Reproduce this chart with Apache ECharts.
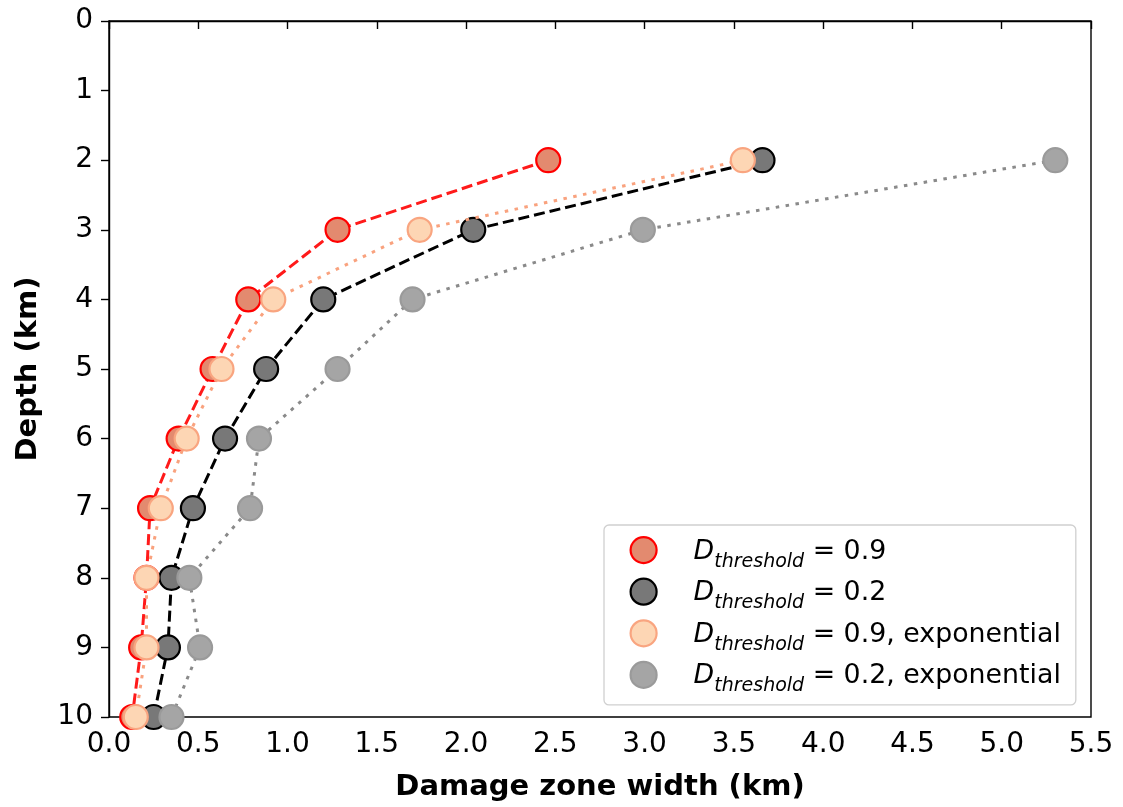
<!DOCTYPE html>
<html>
<head>
<meta charset="utf-8">
<script src="https://cdn.jsdelivr.net/npm/echarts@6/dist/echarts.min.js"></script>
<style>html,body{margin:0;padding:0;background:#fff}#c{width:1123px;height:807px}</style>
</head>
<body>
<div id="c"></div>
<script>
const depths = [2, 3, 4, 5, 6, 7, 8, 9, 10];
const red09 = [2.46, 1.28, 0.78, 0.58, 0.39, 0.23, 0.21, 0.18, 0.13];
const black02 = [3.66, 2.04, 1.20, 0.88, 0.65, 0.47, 0.35, 0.33, 0.25];
const orange09exp = [3.55, 1.74, 0.92, 0.63, 0.435, 0.29, 0.21, 0.21, 0.15];
const gray02exp = [5.30, 2.99, 1.70, 1.28, 0.84, 0.79, 0.45, 0.51, 0.35];
const xTicks = ['0.0','0.5','1.0','1.5','2.0','2.5','3.0','3.5','4.0','4.5','5.0','5.5'];
const seriesNames = ['s1', 's2', 's3', 's4'];
const legendSuffix = [' = 0.9', ' = 0.2', ' = 0.9, exponential', ' = 0.2, exponential'];

const FONT = 'DejaVu Sans';
const styles = [
  {line: '#ff1a1a', dash: [11, 5], fill: '#e38a6f', border: '#ff0000'},
  {line: '#000000', dash: [11, 5], fill: '#787878', border: '#000000'},
  {line: '#f9a27e', dash: [3.5, 6.5], fill: '#fdd6b4', border: '#f9a580'},
  {line: '#8a8a8a', dash: [3.5, 6.5], fill: '#a5a5a5', border: '#9a9a9a'}
];
const datas = [red09, black02, orange09exp, gray02exp];

function pairs(xs) { return xs.map((v, i) => [v, depths[i]]); }

const series = datas.map((d, i) => ({
  name: seriesNames[i],
  type: 'line',
  data: pairs(d),
  symbol: 'circle',
  symbolSize: 24,
  z: 2 + i,
  lineStyle: {color: styles[i].line, width: 3, type: styles[i].dash},
  itemStyle: {color: styles[i].fill, borderColor: styles[i].border, borderWidth: 2.2, opacity: 1},
  emphasis: {disabled: true},
  animation: false
}));

const chart = echarts.init(document.getElementById('c'), null, {renderer: 'canvas'});
chart.setOption({
  animation: false,
  backgroundColor: '#fff',
  grid: {left: 109, right: 32, top: 21, bottom: 90, show: true, borderColor: '#000', borderWidth: 1.4, backgroundColor: 'transparent'},
  xAxis: {
    type: 'value', min: 0, max: 5.5, interval: 0.5,
    name: 'Damage zone width (km)', nameLocation: 'middle', nameGap: 56,
    nameTextStyle: {fontFamily: FONT, fontWeight: 'bold', fontSize: 29, color: '#000'},
    axisLine: {show: true, lineStyle: {color: '#000', width: 1.4}},
    axisTick: {show: true, length: 8, lineStyle: {color: '#000', width: 1.4}},
    axisLabel: {fontFamily: FONT, fontSize: 28, color: '#000', margin: 14,
      formatter: v => xTicks[Math.round(v / 0.5)]},
    splitLine: {show: false}
  },
  yAxis: {
    type: 'value', min: 0, max: 10, interval: 1, inverse: true,
    name: 'Depth (km)', nameLocation: 'middle', nameGap: 66, nameRotate: 90,
    nameTextStyle: {fontFamily: FONT, fontWeight: 'bold', fontSize: 29, color: '#000'},
    axisLine: {show: true, lineStyle: {color: '#000', width: 1.4}},
    axisTick: {show: true, length: 8, lineStyle: {color: '#000', width: 1.4}},
    axisLabel: {fontFamily: FONT, fontSize: 28, color: '#000', margin: 16},
    splitLine: {show: false}
  },
  legend: {
    orient: 'vertical',
    left: 604, top: 525,
    padding: [11, 15, 9, 25.5],
    itemGap: 6.5,
    itemWidth: 26, itemHeight: 26,
    icon: 'circle',
    backgroundColor: '#fff',
    borderColor: '#d0d0d0', borderWidth: 1.3, borderRadius: 5,
    data: seriesNames.map((n, i) => ({
      name: n,
      itemStyle: {color: styles[i].fill, borderColor: styles[i].border, borderWidth: 2.2},
      lineStyle: {opacity: 0}
    })),
    formatter: name => {
      const i = seriesNames.indexOf(name);
      return '{d|D}{s|threshold}{e|' + legendSuffix[i] + '}';
    },
    textStyle: {
      fontFamily: FONT, fontSize: 26.8, color: '#000', padding: [0, 0, 0, 32],
      rich: {
        d: {fontFamily: FONT, fontStyle: 'italic', fontSize: 26.8, color: '#000', lineHeight: 30, verticalAlign: 'bottom'},
        s: {fontFamily: FONT, fontStyle: 'italic', fontSize: 19, color: '#000', lineHeight: 30, verticalAlign: 'bottom', padding: [0, 0, -6, 0]},
        e: {fontFamily: FONT, fontSize: 26.8, color: '#000', lineHeight: 30, verticalAlign: 'bottom'}
      }
    }
  },
  series: series
});
</script>
</body>
</html>
